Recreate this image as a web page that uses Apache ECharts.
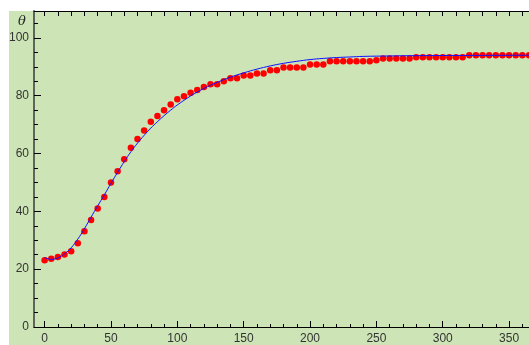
<!DOCTYPE html>
<html>
<head>
<meta charset="utf-8">
<script src="https://cdn.jsdelivr.net/npm/echarts@6/dist/echarts.min.js"></script>
<style>
  html, body { margin: 0; padding: 0; background: #fff; }
  #wrap { position: relative; width: 529px; height: 345px; overflow: hidden; }
  #bg { position: absolute; left: 9px; top: 11px; right: 0; bottom: 0; background: #cde5b6; }
  #chart { position: absolute; left: 0; top: 0; width: 529px; height: 345px; }
</style>
</head>
<body>
<div id="wrap">
  <div id="bg"></div>
  <div id="chart"></div>
</div>
<script>
// measured temperature, one reading every 5 time units
const times = [0, 5, 10, 15, 20, 25, 30, 35, 40, 45, 50, 55, 60, 65, 70, 75, 80, 85, 90, 95,
  100, 105, 110, 115, 120, 125, 130, 135, 140, 145, 150, 155, 160, 165, 170, 175, 180, 185, 190, 195,
  200, 205, 210, 215, 220, 225, 230, 235, 240, 245, 250, 255, 260, 265, 270, 275, 280, 285, 290, 295,
  300, 305, 310, 315, 320, 325, 330, 335, 340, 345, 350, 355, 360, 365]
const measured = [23.1, 23.6, 24.2, 25.1, 26.2, 29.0, 33.1, 37.0, 41.0, 45.0, 50.0, 53.9, 58.0, 62.0, 65.0, 68.0, 71.0, 73.0, 75.0, 77.0,
  78.8, 79.8, 81.0, 82.0, 83.0, 84.0, 84.0, 85.0, 86.0, 86.0, 87.0, 87.0, 87.7, 87.7, 88.8, 88.8, 89.8, 89.8, 89.8, 89.8,
  90.8, 90.8, 90.8, 91.9, 91.9, 91.9, 91.9, 91.9, 91.9, 91.9, 92.3, 92.9, 92.9, 92.9, 92.9, 92.9, 93.3, 93.3, 93.3, 93.3,
  93.3, 93.3, 93.3, 93.3, 94.0, 94.0, 94.0, 94.0, 94.0, 94.0, 94.0, 94.0, 94.0, 94.0]

// fitted curve
const fitT = [0, 5, 10, 15, 20, 25, 30, 35, 40, 45, 50, 55, 60, 65, 70, 75, 80, 85, 90, 95, 100,
  110, 120, 130, 140, 150, 160, 170, 180, 190, 200, 210, 220, 230, 240, 260, 280, 300, 330, 365]
const fitTheta = [24.0, 23.4, 23.9, 25.3, 27.4, 30.4, 34.0, 38.0, 41.9, 45.7, 49.7, 53.5, 57.2, 60.6, 63.6, 66.3, 68.8, 71.0, 73.1, 75.0, 76.8,
  79.9, 82.5, 84.6, 86.4, 87.9, 89.2, 90.3, 91.2, 91.9, 92.5, 92.9, 93.2, 93.4, 93.6, 93.75, 93.85, 93.9, 93.95, 94.0]

// ticks
const xMajor = [0, 50, 100, 150, 200, 250, 300, 350]
const xMinor = [0, 10, 20, 30, 40, 50, 60, 70, 80, 90, 100, 110, 120, 130, 140, 150, 160, 170, 180, 190,
  200, 210, 220, 230, 240, 250, 260, 270, 280, 290, 300, 310, 320, 330, 340, 350, 360]
const yMajor = [0, 20, 40, 60, 80, 100]
const yMinor = [5, 10, 15, 25, 30, 35, 45, 50, 55, 65, 70, 75, 85, 90, 95, 105]

let chartDom = document.getElementById('chart')
let myChart = echarts.init(chartDom, null, { renderer: 'canvas' })

let labelStyle = { color: '#333', fontSize: 12, fontFamily: 'Liberation Sans' }

let option = {
  animation: false,
  backgroundColor: 'transparent',
  grid: { left: 34, right: 0, top: 11, bottom: 18, containLabel: false, outerBoundsMode: 'none' },
  graphic: [
    { type: 'text', left: 18, top: 15, style: { text: 'θ', font: 'italic 13px "DejaVu Serif"', fill: '#222' } }
  ],
  xAxis: [
    {
      type: 'value', position: 'bottom', min: -8, max: 365,
      axisLine: { onZero: false, lineStyle: { color: '#000', width: 1 } },
      axisTick: { inside: true, length: 6, customValues: xMajor, lineStyle: { color: '#000' } },
      axisLabel: Object.assign({ customValues: xMajor, margin: 6 }, labelStyle),
      splitLine: { show: false }
    },
    {
      type: 'value', position: 'bottom', min: -8, max: 365,
      axisLine: { show: false, onZero: false },
      axisTick: { inside: true, length: 3, customValues: xMinor, lineStyle: { color: '#000' } },
      axisLabel: { show: false },
      splitLine: { show: false }
    },
    {
      type: 'value', position: 'top', min: -8, max: 365,
      axisLine: { onZero: false, lineStyle: { color: '#000', width: 1 } },
      axisTick: { inside: true, length: 5, customValues: xMinor, lineStyle: { color: '#000' } },
      axisLabel: { show: false },
      splitLine: { show: false }
    }
  ],
  yAxis: [
    {
      type: 'value', position: 'left', min: 0, max: 109.3,
      axisLine: { show: true, onZero: false, lineStyle: { color: '#5f6659', width: 2 } },
      axisTick: { show: true, inside: true, length: 7, customValues: yMajor, lineStyle: { color: '#000' } },
      axisLabel: Object.assign({ customValues: yMajor, margin: 5 }, labelStyle),
      splitLine: { show: false }
    },
    {
      type: 'value', position: 'left', min: 0, max: 109.3,
      axisLine: { show: false, onZero: false },
      axisTick: { show: true, inside: true, length: 4, customValues: yMinor, lineStyle: { color: '#000' } },
      axisLabel: { show: false },
      splitLine: { show: false }
    }
  ],
  series: [
    {
      type: 'scatter',
      xAxisIndex: 0,
      yAxisIndex: 0,
      symbolSize: 6.5,
      itemStyle: { color: '#ff0000', opacity: 1 },
      data: times.map((t, i) => [t, measured[i]]),
      z: 2
    },
    {
      type: 'line',
      xAxisIndex: 0,
      yAxisIndex: 0,
      smooth: 0.4,
      showSymbol: false,
      lineStyle: { color: '#1010ff', width: 1 },
      data: fitT.map((t, i) => [t, fitTheta[i]]),
      z: 3
    }
  ]
}

myChart.setOption(option)
</script>
</body>
</html>
